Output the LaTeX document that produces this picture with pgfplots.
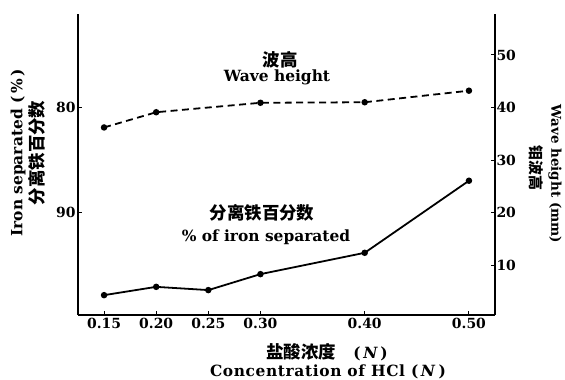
\documentclass[border=0pt]{standalone}
\usepackage{pgfplots}
\pgfplotsset{compat=1.18}
\usepackage{fontspec}
\setmainfont{DejaVu Serif}
\newfontfamily\cjk{Noto Sans CJK SC}
\pgfplotstableread{
x iron
0.15 97.86
0.20 97.07
0.25 97.38
0.30 95.86
0.40 93.83
0.50 86.97
}\irontab
\pgfplotstableread{
x wave
0.15 36.2
0.20 39.1
0.30 40.9
0.40 41.0
0.50 43.2
}\wavetab
\begin{document}
\begin{tikzpicture}
\pgfplotsset{
  common/.style={
    scale only axis, width=417bp, height=301bp, at={(0,0)}, anchor=south west,
    xmin=0.125, xmax=0.525,
    axis line style={-, line width=1.6pt},
    tick align=inside, major tick length=4bp,
    tick style={line width=1pt, black},
    ticklabel style={font=\fontsize{14}{14}\selectfont\bfseries},
    /pgf/number format/assume math mode=true,
    clip=false,
  }
}
\begin{axis}[common,
  ymin=71.1, ymax=99.75, y dir=reverse,
  axis x line*=bottom, axis y line*=left,
  xtick={0.15,0.20,0.25,0.30,0.40,0.50},
  xticklabels={0.15,0.20,0.25,0.30,0.40,0.50},
  ytick={80,90}, yticklabels={80,90},
  yticklabel style={xshift=1bp},
]
\addplot[black, line width=1.8pt, mark=*, mark size=2.3pt] table[x=x,y=iron]{\irontab};
\end{axis}
\begin{axis}[common,
  ymin=0.5, ymax=57.8,
  axis x line=none, axis y line*=right,
  ytick={10,20,30,40,50}, yticklabels={10,20,30,40,50},
  yticklabel style={xshift=-2bp},
]
\addplot[black, line width=1.8pt, dash pattern=on 7pt off 4.5pt, mark=*, mark size=2.3pt, mark options={solid}] table[x=x,y=wave]{\wavetab};
\end{axis}
% axis titles
\node[rotate=90, font=\fontsize{15.5}{15.5}\selectfont\bfseries] at (-60bp,162bp) {Iron separated (\,\%\,)};
\node[rotate=90, font=\fontsize{17.5}{17.5}\selectfont\cjk\bfseries] at (-41bp,162bp) {分离铁百分数};
\node[rotate=-90, font=\fontsize{13.5}{13.5}\selectfont\bfseries] at (477bp,141bp) {Wave height (mm)};
\node[rotate=-90, font=\fontsize{15}{15}\selectfont\cjk\bfseries] at (458bp,147bp) {钼波高};
\node[font=\fontsize{17.5}{17.5}\selectfont\cjk\bfseries] at (249bp,-37bp) {盐酸浓度\quad{\rmfamily\fontsize{15.5}{15.5}\selectfont\bfseries(\,\textit{N}\,)}};
\node[font=\fontsize{15.5}{15.5}\selectfont\bfseries\addfontfeature{LetterSpace=4}] at (250bp,-57bp) {Concentration of HCl (\,\textit{N}\,)};
% annotations
\node[font=\fontsize{17.5}{17.5}\selectfont\cjk\bfseries] at (202bp,255bp) {波高};
\node[font=\fontsize{15.5}{15.5}\selectfont\bfseries] at (199bp,238bp) {Wave height};
\node[font=\fontsize{17.5}{17.5}\selectfont\cjk\bfseries] at (184bp,102bp) {分离铁百分数};
\node[font=\fontsize{15.5}{15.5}\selectfont\bfseries] at (188bp,78bp) {\% of iron separated};
\pgfresetboundingbox
\path (-78bp,-65bp) rectangle (487bp,315bp);
\end{tikzpicture}
\end{document}
